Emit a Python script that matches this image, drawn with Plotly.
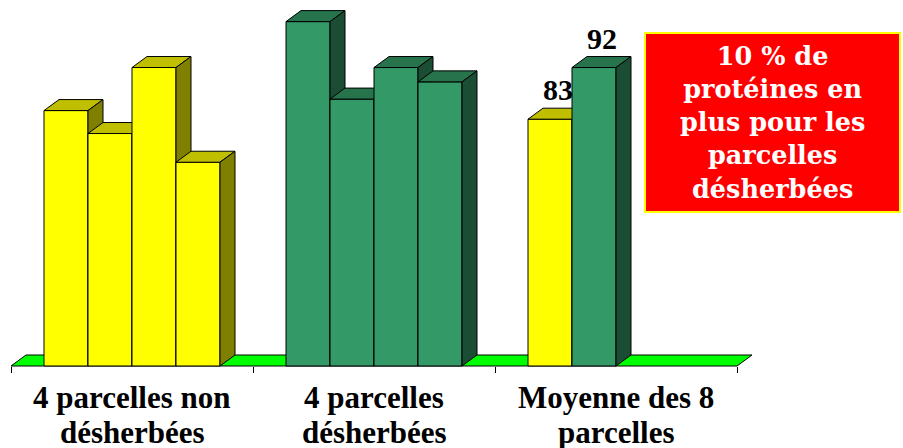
import plotly.graph_objects as go

# ---------------- data ----------------
categories = ["4 parcelles non<br>désherbées", "4 parcelles<br>désherbées", "Moyenne des 8<br>parcelles"]
non_desherbees = [84.5, 80.5, 92, 75.5]
desherbees = [100, 86.5, 92, 89.5]
moyennes = [83, 92]
moyenne_labels = ["83", "92"]
encadre = "10 % de<br>protéines en<br>plus pour les<br>parcelles<br>désherbées"
y_min = 40

# ---------------- geometry / style ----------------
W, H = 903, 448
PX_X = 242.0      # pixels per category
X0_PX = 11.0      # pixel of the left end of the category axis
BASE_PX = 366.0   # pixel row of the floor front edge
PX_Y = 5.74       # pixels per value unit
xr = [-X0_PX / PX_X, (W - X0_PX) / PX_X]
yr = [y_min - (H - BASE_PX) / PX_Y, y_min + BASE_PX / PX_Y]
DX = 15 / PX_X    # 3D depth offset (x)
DY = 11 / PX_Y    # 3D depth offset (y)
SLOT = 1 / 5.5    # bar width (gap width 150 %)

YEL = dict(front="#FFFF00", top="#BFBF00", side="#808000")
GRN = dict(front="#339966", top="#26734C", side="#1A4D33")

bars = []
for i, v in enumerate(non_desherbees):
    bars.append((0, i, v, YEL))
for i, v in enumerate(desherbees):
    bars.append((1, i, v, GRN))
bars.append((2, 0, moyennes[0], YEL))
bars.append((2, 1, moyennes[1], GRN))

fig = go.Figure()


def poly(xs, ys, color):
    fig.add_trace(go.Scatter(
        x=xs + [xs[0]], y=ys + [ys[0]], mode="lines", fill="toself",
        fillcolor=color, line=dict(color="black", width=1),
        hoverinfo="skip", showlegend=False))


# floor
n = len(categories)
poly([0, n, n + DX, DX], [y_min, y_min, y_min + DY, y_min + DY], "#00FF00")

# bars, left to right (painter's order)
for g, s, v, col in bars:
    left = g + 0.5 - 2 * SLOT + s * SLOT
    right = left + SLOT
    poly([left, right, right, left], [y_min, y_min, v, v], col["front"])
    poly([left, right, right + DX, left + DX], [v, v, v + DY, v + DY], col["top"])
    poly([right, right + DX, right + DX, right], [y_min, y_min + DY, v + DY, v], col["side"])

annotations = []
# value labels on the averages
for s, (v, lab) in enumerate(zip(moyennes, moyenne_labels)):
    left = 2 + 0.5 - 2 * SLOT + s * SLOT
    annotations.append(dict(
        x=left + SLOT / 2 + DX / 2, y=v + DY, xref="x", yref="y",
        text=lab, showarrow=False, yanchor="bottom", xanchor="center",
        font=dict(family="Liberation Serif", size=30, color="black", weight="bold")))

# category labels (one annotation per line)
LINE_CENTERS_PX = [397, 432]
for k, c in enumerate(categories):
    for j, line in enumerate(c.split("<br>")):
        annotations.append(dict(
            x=k + 0.5, y=1 - LINE_CENTERS_PX[j] / H, xref="x", yref="paper",
            text=line, showarrow=False, yanchor="middle", xanchor="center",
            font=dict(family="Liberation Serif", size=31, color="black", weight="bold")))

# red call-out
annotations.append(dict(
    x=772.5 / W, y=1 - 123 / H, xref="paper", yref="paper",
    text=encadre, showarrow=False, xanchor="center", yanchor="middle",
    font=dict(family="DejaVu Serif", size=25.5, color="white", weight="bold")))

shapes = [dict(type="rect", xref="paper", yref="paper",
               x0=645 / W, x1=900 / W, y0=1 - 212 / H, y1=1 - 33 / H,
               fillcolor="#FF0000", line=dict(color="#FFFF00", width=2), layer="below")]

fig.update_layout(
    width=W, height=H, margin=dict(l=0, r=0, t=0, b=0, pad=0),
    paper_bgcolor="white", plot_bgcolor="rgba(0,0,0,0)",
    showlegend=False, annotations=annotations, shapes=shapes,
    xaxis=dict(range=xr, fixedrange=True, showgrid=False, zeroline=False,
               showline=False, anchor="free", position=(H - BASE_PX) / H,
               tickmode="array", tickvals=list(range(n + 1)), ticks="outside",
               ticklen=6, tickwidth=1, tickcolor="black", showticklabels=False),
    yaxis=dict(range=yr, fixedrange=True, visible=False),
)

fig.write_html("out.html", config={"displayModeBar": False},
               post_script="document.body.style.margin='0px';document.body.style.overflow='hidden';")
